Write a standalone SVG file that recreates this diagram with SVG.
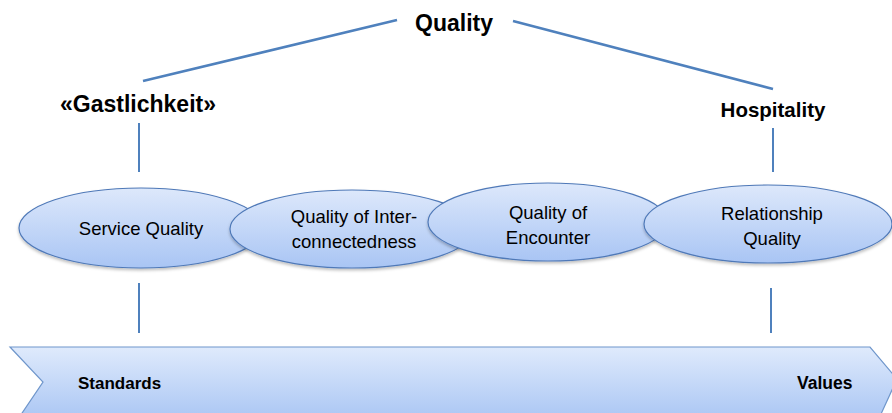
<svg xmlns="http://www.w3.org/2000/svg" width="892" height="413" viewBox="0 0 892 413">
<style>
.lbl{font-family:"Liberation Sans",Arial,sans-serif;fill:#000}
.b{font-weight:bold}
.c{text-anchor:middle}
.e{font-size:18.5px}
.line{stroke:#4f81bd;fill:none}
.ell{fill:url(#g);stroke:#4f79b8;stroke-width:1.2;filter:url(#sh)}
</style>
<defs>
<linearGradient id="g" x1="0" y1="0" x2="0" y2="1">
<stop offset="0" stop-color="#dde8fb"/>
<stop offset="1" stop-color="#a9c5f4"/>
</linearGradient>
<linearGradient id="g2" x1="0" y1="0" x2="0" y2="1">
<stop offset="0" stop-color="#dfeafc"/>
<stop offset="1" stop-color="#a6c3f3"/>
</linearGradient>
<filter id="sh" x="-10%" y="-10%" width="120%" height="130%">
<feDropShadow dx="0" dy="2" stdDeviation="1.5" flood-color="#000" flood-opacity="0.25"/>
</filter>
</defs>
<g id="connectors">
<line class="line" x1="143" y1="81" x2="397" y2="20" stroke-width="2.5"/>
<line class="line" x1="513" y1="21" x2="773" y2="89" stroke-width="2.5"/>
<line class="line" x1="139" y1="123" x2="139" y2="172" stroke-width="2"/>
<line class="line" x1="773" y1="128" x2="773" y2="172" stroke-width="2"/>
<line class="line" x1="139" y1="283" x2="139" y2="333" stroke-width="2"/>
<line class="line" x1="771" y1="288" x2="771" y2="333" stroke-width="2"/>
</g>
<g id="quality">
<text class="lbl b c" x="454" y="31" font-size="23">Quality</text>
</g>
<g id="gastlichkeit">
<text class="lbl b c" x="138" y="112" font-size="23">«Gastlichkeit»</text>
</g>
<g id="hospitality">
<text class="lbl b c" x="773" y="117" font-size="20.5">Hospitality</text>
</g>
<g id="scale">
<polygon points="10,347 870,347 897,379 876,425 14,425 43,382" fill="url(#g2)" stroke="#6f96cb" stroke-width="1.2"/>
<text class="lbl b" x="78" y="389" font-size="17">Standards</text>
<text class="lbl b" x="797" y="389" font-size="17.5">Values</text>
</g>
<g id="service-quality">
<ellipse class="ell" cx="141" cy="228" rx="122" ry="40"/>
<text class="lbl c e" x="141" y="235">Service Quality</text>
</g>
<g id="interconnectedness">
<ellipse class="ell" cx="352" cy="229" rx="122" ry="39"/>
<text class="lbl c e" x="354" y="223">Quality of Inter-</text>
<text class="lbl c e" x="354" y="248">connectedness</text>
</g>
<g id="encounter">
<ellipse class="ell" cx="548" cy="222" rx="120" ry="39"/>
<text class="lbl c e" x="548" y="219">Quality of</text>
<text class="lbl c e" x="548" y="244">Encounter</text>
</g>
<g id="relationship">
<ellipse class="ell" cx="768" cy="224" rx="124" ry="39"/>
<text class="lbl c e" x="772" y="220">Relationship</text>
<text class="lbl c e" x="772" y="245">Quality</text>
</g>
</svg>
